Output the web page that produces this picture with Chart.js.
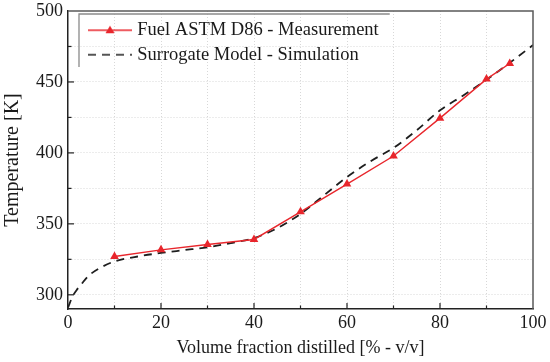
<!DOCTYPE html>
<html>
<head>
<meta charset="utf-8">
<script src="https://cdn.jsdelivr.net/npm/chart.js@4.4.1/dist/chart.umd.min.js"></script>
<style>
  html, body { margin: 0; padding: 0; background: #fff; }
  #wrap { width: 550px; height: 362px; }
</style>
</head>
<body>
<div id="wrap"><canvas id="grafico"></canvas></div>
<script>
// datos
const medX = [10, 20, 30, 40, 50, 60, 70, 80, 90, 95]
const medT = [327, 331.7, 335.5, 339, 358.5, 378, 397.8, 424.5, 452, 463]

const simX = [0, 1, 2, 3, 4, 5, 7.5, 10, 15, 20, 25, 30, 35, 40, 45, 50, 55, 60, 65, 70, 75, 80, 85, 90, 95, 100]
const simT = [291, 299, 304, 308, 312, 315, 320, 323.5, 327, 329.5, 331.5, 333.5, 336.5, 340, 347, 357, 370, 383, 394, 403.5, 416, 430, 440.5, 451.5, 463.5, 476]

const ticksX = [0, 10, 20, 30, 40, 50, 60, 70, 80, 90, 100]
const ticksY = [300, 325, 350, 375, 400, 425, 450, 475, 500]

const etiquetas = ['Fuel ASTM D86 - Measurement', 'Surrogate Model - Simulation']

const rojo = '#e8262c'
const negro = '#1e1e1e'
const fuente = "'Liberation Serif', 'Times New Roman', serif"

/* muestra de la leyenda: linea con triangulo o linea discontinua */
function muestra(tipo){
    const c = document.createElement('canvas')
    c.width = 62
    c.height = 16
    const g = c.getContext('2d')
    if (tipo === 'med') {
        g.strokeStyle = rojo
        g.lineWidth = 1.4
        g.beginPath(); g.moveTo(18, 8); g.lineTo(62, 8); g.stroke()
        g.fillStyle = rojo
        g.beginPath(); g.moveTo(40, 3.5); g.lineTo(44.5, 11); g.lineTo(35.5, 11); g.closePath(); g.fill()
    } else {
        g.strokeStyle = negro
        g.lineWidth = 1.7
        g.setLineDash([8, 6])
        g.beginPath(); g.moveTo(18, 8); g.lineTo(62, 8); g.stroke()
    }
    return c
}
const muestras = [muestra('med'), muestra('sim')]

/* ticks hacia adentro, marco superior/derecho y caja de la leyenda */
const extras = {
    id: 'extras',
    afterLayout(chart){
        // la leyenda 'chartArea' vertical empieza en y=0, se baja dentro del area
        const lg = chart.legend
        const alto = lg.bottom - lg.top
        lg.top = chart.chartArea.top + 4
        lg.bottom = lg.top + alto
    },
    afterDraw(chart){
        const ctx = chart.ctx
        const a = chart.chartArea
        const sx = chart.scales.x
        const sy = chart.scales.y
        ctx.save()
        ctx.strokeStyle = '#5a5a5a'
        ctx.lineWidth = 1.5
        ctx.beginPath()
        ctx.moveTo(a.left, a.top); ctx.lineTo(a.right, a.top); ctx.lineTo(a.right, a.bottom)
        ctx.stroke()

        ctx.strokeStyle = '#222'
        ctx.lineWidth = 1.2
        ticksX.forEach(v => {
            if (v === 0 || v === 100) return
            const px = sx.getPixelForValue(v)
            const l = v % 20 === 0 ? 6 : 3.5
            ctx.beginPath(); ctx.moveTo(px, a.bottom); ctx.lineTo(px, a.bottom - l); ctx.stroke()
        })
        ticksY.forEach(v => {
            if (v === 500) return
            const py = sy.getPixelForValue(v)
            const l = v % 50 === 0 ? 6 : 3.5
            ctx.beginPath(); ctx.moveTo(a.left, py); ctx.lineTo(a.left + l, py); ctx.stroke()
        })

        const cajas = chart.legend.legendHitBoxes
        if (cajas && cajas.length) {
            const izq = a.left + 11
            const arr = a.top + 3
            let der = 0
            cajas.forEach(b => { der = Math.max(der, b.left + b.width) })
            ctx.strokeStyle = '#8a8a8a'
            ctx.lineWidth = 1.3
            ctx.beginPath()
            ctx.moveTo(izq, a.top + 56)
            ctx.lineTo(izq, arr)
            ctx.lineTo(der + 11, arr)
            ctx.stroke()
        }
        ctx.restore()
    }
}

const ctx = document.getElementById('grafico')

const grafico = new Chart(ctx, {
    type: 'scatter',
    data: {
        datasets: [{
            label: etiquetas[0],
            data: medX.map((x, i) => ({x: x, y: medT[i]})),
            showLine: true,
            borderColor: rojo,
            backgroundColor: rojo,
            borderWidth: 1.4,
            pointStyle: 'triangle',
            pointRadius: 5,
            pointBorderWidth: 0,
            tension: 0
        },
        {
            label: etiquetas[1],
            data: simX.map((x, i) => ({x: x, y: simT[i]})),
            showLine: true,
            borderColor: negro,
            backgroundColor: negro,
            borderWidth: 1.8,
            borderDash: [8, 6],
            pointRadius: 0,
            cubicInterpolationMode: 'monotone'
        }]
    },
    options: {
        responsive: true,
        maintainAspectRatio: false,
        animation: false,
        layout: { padding: { top: 11, right: 17, left: 0, bottom: 0 } },
        plugins: {
            tooltip: { enabled: false },
            legend: {
                position: 'chartArea',
                align: 'start',
                labels: {
                    usePointStyle: true,
                    pointStyleWidth: 54,
                    padding: 6,
                    color: '#1a1a1a',
                    font: { family: fuente, size: 18.5 },
                    generateLabels(chart){
                        return chart.data.datasets.map((d, i) => ({
                            text: d.label,
                            pointStyle: muestras[i],
                            fillStyle: d.borderColor,
                            strokeStyle: d.borderColor,
                            lineWidth: 0,
                            hidden: false,
                            datasetIndex: i,
                            fontColor: '#1a1a1a'
                        }))
                    }
                }
            }
        },
        scales: {
            x: {
                type: 'linear',
                min: 0,
                max: 100,
                afterBuildTicks(s){ s.ticks = ticksX.map(v => ({value: v})) },
                afterFit(s){ s.height = 53 },
                ticks: {
                    padding: 3,
                    color: '#1a1a1a',
                    font: { family: fuente, size: 18 },
                    maxRotation: 0,
                    autoSkip: false,
                    callback: v => (v % 20 === 0 ? v : '')
                },
                grid: {
                    drawTicks: false,
                    color: c => (c.tick && (c.tick.value === 0 || c.tick.value === 100) ? 'rgba(0,0,0,0)' : '#d8d8d8'),
                    lineWidth: 1
                },
                border: { display: true, color: '#222', width: 1.5, dash: [1, 2] },
                title: {
                    display: true,
                    text: 'Volume fraction distilled [% - v/v]',
                    color: '#1a1a1a',
                    font: { family: fuente, size: 18 },
                    padding: { top: 0, bottom: 3 }
                }
            },
            y: {
                type: 'linear',
                min: 290,
                max: 500,
                afterBuildTicks(s){ s.ticks = ticksY.map(v => ({value: v})) },
                afterFit(s){ s.width = 68; s.paddingTop = 0; s.paddingBottom = 0 },
                ticks: {
                    padding: 5,
                    color: '#1a1a1a',
                    font: { family: fuente, size: 18 },
                    autoSkip: false,
                    callback: v => (v % 50 === 0 ? v : '')
                },
                grid: {
                    drawTicks: false,
                    color: c => (c.tick && c.tick.value === 500 ? 'rgba(0,0,0,0)' : '#d8d8d8'),
                    lineWidth: 1
                },
                border: { display: true, color: '#222', width: 1.5, dash: [1, 2] },
                title: {
                    display: true,
                    text: 'Temperature [K]',
                    color: '#1a1a1a',
                    font: { family: fuente, size: 20 },
                    padding: { top: 1, bottom: 0 }
                }
            }
        }
    },
    plugins: [extras]
})
</script>
</body>
</html>
